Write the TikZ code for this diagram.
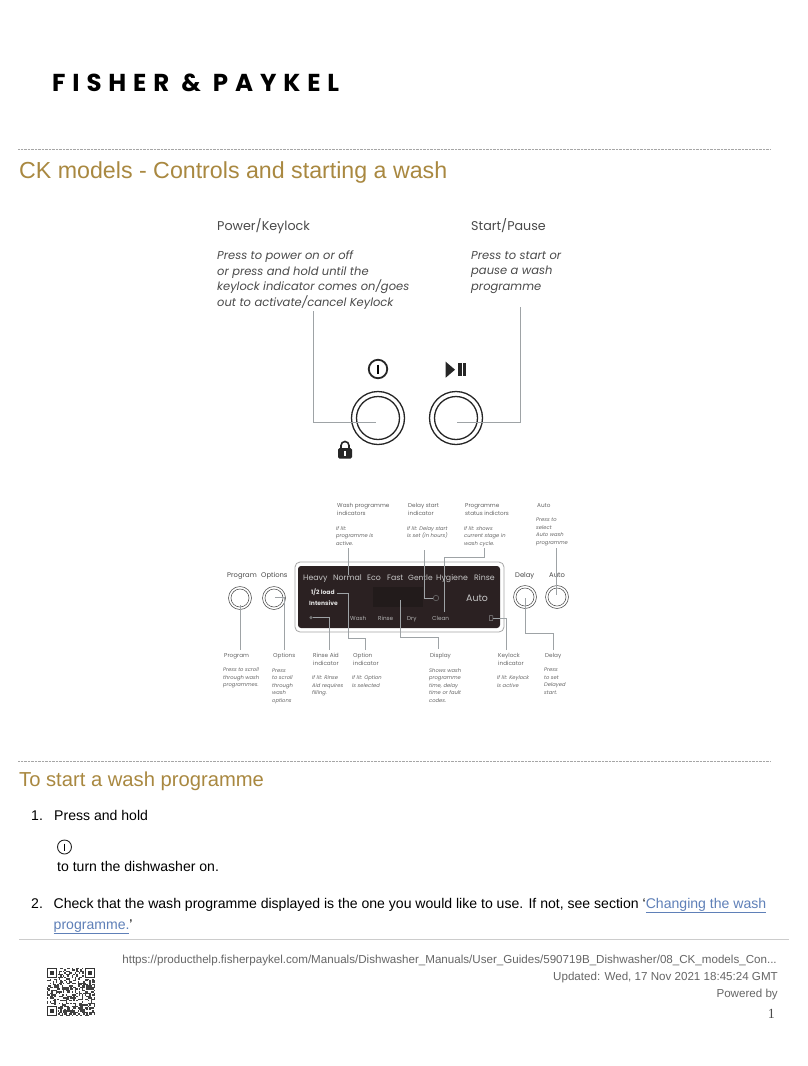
\documentclass[tikz,border=0pt]{standalone}
\usepackage{fontspec}
\setmainfont{Liberation Sans}
\newfontfamily\logofont[LetterSpace=28]{Poppins}
\newfontfamily\panelfont{Poppins}
\usepackage{xcolor}
\usetikzlibrary{positioning, calc}
\definecolor{heading}{HTML}{A98840}
\definecolor{linkblue}{HTML}{5F80B8}
\definecolor{leadgrey}{HTML}{9EA3A6}
\definecolor{panelbrown}{HTML}{2B2122}
\definecolor{captiongrey}{HTML}{4A4A4A}

\begin{document}
\begin{tikzpicture}
    [x=1pt, y=-1pt,
      page/.style={inner sep=0pt, anchor=base west},
      rulerline/.style={draw=black!35, line width=0.7pt, dash pattern=on 0.7pt off 0.7pt},
      title/.style={page, text=heading, font=\fontsize{23.2}{28}\selectfont},
      bodytext/.style={page, font=\fontsize{14.06}{16}\selectfont},
      footer/.style={inner sep=0pt, anchor=base east, text=black!60, font=\fontsize{11.6}{14}\selectfont},
      bigcapt/.style={page, text=captiongrey, font=\panelfont\fontsize{12.7}{14}\selectfont},
      bignote/.style={inner sep=0pt, anchor=north west, align=left, text=captiongrey,
        font=\panelfont\itshape\fontsize{11.5}{15.4}\selectfont},
      capt/.style={inner sep=0pt, anchor=north west, align=left, text=captiongrey!85,
        font=\panelfont\fontsize{5.7}{8}\selectfont},
      note/.style={inner sep=0pt, anchor=north west, align=left, text=captiongrey!85, xshift=-1pt,
        font=\panelfont\itshape\fontsize{5.2}{7.5}\selectfont},
      btn/.style={page, text=captiongrey, font=\panelfont\fontsize{6.8}{8}\selectfont},
      lit/.style={page, text=black!22, font=\panelfont\fontsize{7.8}{9}\selectfont},
      litsmall/.style={page, text=black!30, font=\panelfont\fontsize{5.7}{7}\selectfont},
      litbold/.style={page, text=black!12, font=\panelfont\bfseries\fontsize{6}{7}\selectfont},
      lead/.style={draw=leadgrey, line width=0.8pt},
      ring/.style={circle, draw=black!85, line width=#1, inner sep=0pt},
      smallring/.style={circle, draw=black!65, line width=0.6pt, inner sep=0pt}]

    \useasboundingbox[fill=white] (0,0) rectangle (808,1066);

    % page head
    \node[page, font=\logofont\bfseries\fontsize{24.5}{28}\selectfont] (Logo) at (52,91) {FISHER \& PAYKEL};
    \coordinate (RuleAL) at (18,149.5);
    \coordinate (RuleAR) at (770,149.5);
    \draw[rulerline] (RuleAL) -- (RuleAR);
    \node[title] (Title) at (19,178) {CK models - Controls and starting a wash};

    % power and start buttons
    \node[ring=1.3pt, minimum size=53pt] (Power) at (378,418) {};
    \node[ring=1.3pt, minimum size=43pt] (PowerIn) at (378,418) {};
    \node[ring=1.3pt, minimum size=53pt] (Start) at (456,418) {};
    \node[ring=1.3pt, minimum size=43pt] (StartIn) at (456,418) {};

    \node[bigcapt] (PowerCap) at (217,230) {Power/Keylock};
    \node[bignote, below=21pt of PowerCap.base west, anchor=north west] (PowerNote)
    {Press to power on or off \\ or press and hold until the \\ keylock indicator comes on/goes \\ out to activate/cancel Keylock};
    \node[bigcapt] (StartCap) at (471,230) {Start/Pause};
    \node[bignote, below=21pt of StartCap.base west, anchor=north west] (StartNote)
    {Press to start or \\ pause a wash \\ programme};

    \coordinate (PowerTop) at (313,311);
    \coordinate (PowerEnd) at (376,422);
    \coordinate (StartTop) at (520,307);
    \coordinate (StartEnd) at (457,422);
    \draw[lead] (PowerTop) |- (PowerEnd);
    \draw[lead] (StartTop) |- (StartEnd);

    % symbols over the buttons
    \node[ring=1.8pt, minimum size=18.5pt] (PowerSym) at (378,369) {};
    \coordinate (PowerSymA) at (378,364.5);
    \coordinate (PowerSymB) at (378,373.5);
    \draw[line width=1.4pt] (PowerSymA) -- (PowerSymB);
    \fill[black!85] (445.7,361.7) -- (455,369.7) -- (445.7,377.7) -- cycle;
    \fill[black!85] (458.3,363.3) rectangle (461.5,376);
    \fill[black!85] (462.8,363.3) rectangle (466,376);
    \draw[black!85, line width=1.6pt] (341,449) -- (341,445.5) arc[start angle=180, end angle=360, radius=4] -- (349,449);
    \fill[black!85, rounded corners=1.5pt] (338,448) rectangle (352,458.5);
    \fill[white] (344,451) rectangle (346,456);

    % display panel
    \draw[draw=black!35, fill=white, line width=0.8pt, rounded corners=5pt] (295,562) rectangle (504,632);
    \fill[panelbrown, rounded corners=3pt] (298,566) rectangle (500,628);
    \fill[black!20!panelbrown] (373,587) rectangle (423,607);

    \node[btn] (ProgramBtn) at (227,577) {Program};
    \node[btn] (OptionsBtn) at (261,577) {Options};
    \node[btn] (DelayBtn) at (515,577) {Delay};
    \node[btn] (AutoBtn) at (549,577) {Auto};
    \node[smallring, minimum size=23pt] (Program) at (240,598) {};
    \node[smallring, minimum size=18pt] (ProgramIn) at (240,598) {};
    \node[smallring, minimum size=23pt] (Options) at (274,598) {};
    \node[smallring, minimum size=18pt] (OptionsIn) at (274,598) {};
    \node[smallring, minimum size=23pt] (Delay) at (525,597) {};
    \node[smallring, minimum size=18pt] (DelayIn) at (525,597) {};
    \node[smallring, minimum size=23pt] (Auto) at (557,597) {};
    \node[smallring, minimum size=18pt] (AutoIn) at (557,597) {};

    \node[lit] (Heavy) at (303,580) {Heavy};
    \node[lit] (Normal) at (333,580) {Normal};
    \node[lit] (Eco) at (367,580) {Eco};
    \node[lit] (Fast) at (387,580) {Fast};
    \node[lit, font=\panelfont\fontsize{7.5}{9}\selectfont] (Gentle) at (408,580) {Gentle};
    \node[lit] (Hygiene) at (436,580) {Hygiene};
    \node[lit] (Rinse) at (474,580) {Rinse};
    \node[page, text=black!22, font=\panelfont\fontsize{9.4}{11}\selectfont] (AutoLit) at (466,601) {Auto};
    \node[litbold] (HalfLoad) at (311,594) {1/2 load};
    \node[litbold] (Intensive) at (309,605) {Intensive};
    \node[litsmall] (WashSt) at (350,620) {Wash};
    \node[litsmall] (RinseSt) at (378,620) {Rinse};
    \node[litsmall] (DrySt) at (407,620) {Dry};
    \node[litsmall] (CleanSt) at (432,620) {Clean};

    % panel indicators
    \node[circle, draw=black!55, line width=0.5pt, inner sep=0pt, minimum size=5.5pt] (ClockSym) at (436,598) {};
    \node[circle, fill=black!55, inner sep=0pt, minimum size=3.5pt] (RinseSym) at (311,617.5) {};
    \node[rectangle, rounded corners=0.5pt, draw=black!45, line width=0.5pt, inner sep=0pt, minimum width=3.5pt, minimum height=5pt] (LockSym) at (491,618) {};

    % connectors, top to bottom
    \coordinate (WashTop) at (348,548);
    \coordinate (WashEnd) at (348,575);
    \draw[lead] (WashTop) -- (WashEnd);
    \coordinate (ClockTop) at (424,550);
    \draw[lead] (ClockTop) |- (ClockSym.west);
    \coordinate (StatusTop) at (484,548);
    \coordinate (StatusA) at (484,557);
    \coordinate (StatusB) at (444,557);
    \coordinate (StatusEnd) at (444,612);
    \draw[lead] (StatusTop) -- (StatusA) -- (StatusB) -- (StatusEnd);
    \coordinate (AutoTop) at (556,548);
    \coordinate (AutoEnd) at (556,595);
    \draw[lead] (AutoTop) -- (AutoEnd);

    \coordinate (ProgramEnd) at (240,605);
    \coordinate (ProgramLow) at (240,650);
    \draw[lead] (ProgramEnd) -- (ProgramLow);
    \coordinate (OptionsEnd) at (275,597);
    \coordinate (OptionsLow) at (284,650);
    \draw[lead] (OptionsEnd) -| (OptionsLow);
    \coordinate (RinseLow) at (329,650);
    \draw[lead] (RinseSym.east) -| (RinseLow);
    \coordinate (LoadEnd) at (337,593);
    \coordinate (LoadA) at (348,593);
    \coordinate (LoadB) at (348,638);
    \coordinate (LoadC) at (365,638);
    \coordinate (LoadLow) at (365,650);
    \draw[lead] (LoadEnd) -- (LoadA) -- (LoadB) -- (LoadC) -- (LoadLow);
    \coordinate (DisplayEnd) at (400,600);
    \coordinate (DisplayA) at (400,637);
    \coordinate (DisplayB) at (438,637);
    \coordinate (DisplayLow) at (438,649);
    \draw[lead] (DisplayEnd) -- (DisplayA) -- (DisplayB) -- (DisplayLow);
    \coordinate (KeylockLow) at (506,650);
    \draw[lead] (LockSym.east) -| (KeylockLow);
    \coordinate (DelayEnd) at (525,598);
    \coordinate (DelayA) at (525,633);
    \coordinate (DelayB) at (553,633);
    \coordinate (DelayLow) at (553,650);
    \draw[lead] (DelayEnd) -- (DelayA) -- (DelayB) -- (DelayLow);

    % captions above the panel
    \node[capt] (WashCap) at (337,503.5) {Wash programme \\ indicators};
    \node[note, below=10pt of WashCap.south west, anchor=north west] (WashNote) {If lit: \\ programme is \\ active.};
    \node[capt] (ClockCap) at (408,503.5) {Delay start \\ indicator};
    \node[note, below=10pt of ClockCap.south west, anchor=north west] (ClockNote) {If lit: Delay start \\ is set (in hours)};
    \node[capt] (StatusCap) at (465,503.5) {Programme \\ status indictors};
    \node[note, below=10pt of StatusCap.south west, anchor=north west] (StatusNote) {If lit: shows \\ current stage in \\ wash cycle.};
    \node[capt] (AutoCap) at (537,503.5) {Auto};
    \node[note, below=10pt of AutoCap.south west, anchor=north west] (AutoNote) {Press to \\ select \\ Auto wash \\ programme};

    % captions below the panel
    \node[capt] (ProgramCap) at (224,653) {Program};
    \node[note, below=9pt of ProgramCap.south west, anchor=north west] (ProgramNote) {Press to scroll \\ through wash \\ programmes.};
    \node[capt] (OptionsCap) at (273,653) {Options};
    \node[note, below=9pt of OptionsCap.south west, anchor=north west] (OptionsNote) {Press \\ to scroll \\ through \\ wash \\ options};
    \node[capt] (RinseCap) at (313,653) {Rinse Aid \\ indicator};
    \node[note, below=10pt of RinseCap.south west, anchor=north west] (RinseNote) {If lit: Rinse \\ Aid requires \\ filling.};
    \node[capt] (LoadCap) at (353,653) {Option \\ indicator};
    \node[note, below=10pt of LoadCap.south west, anchor=north west] (LoadNote) {If lit: Option \\ is selected};
    \node[capt] (DisplayCap) at (430,653) {Display};
    \node[note, below=9pt of DisplayCap.south west, anchor=north west] (DisplayNote) {Shows wash \\ programme \\ time, delay \\ time or fault \\ codes.};
    \node[capt] (KeylockCap) at (498,653) {Keylock \\ indicator};
    \node[note, below=10pt of KeylockCap.south west, anchor=north west] (KeylockNote) {If lit: Keylock \\ is active};
    \node[capt] (DelayCap) at (545,653) {Delay};
    \node[note, below=9pt of DelayCap.south west, anchor=north west] (DelayNote) {Press \\ to set \\ Delayed \\ start.};

    % wash programme steps
    \coordinate (RuleBL) at (18,761);
    \coordinate (RuleBR) at (770,761);
    \draw[rulerline] (RuleBL) -- (RuleBR);
    \node[title, font=\fontsize{20.2}{24}\selectfont] (Title2) at (19,786) {To start a wash programme};
    \node[bodytext] (One) at (31,820) {1.};
    \node[bodytext] (OneA) at (54,820) {Press and hold};
    \node[circle, draw=black!85, line width=0.9pt, inner sep=0pt, minimum size=14pt] (PowerSmall) at (64.5,847) {};
    \coordinate (PowerSmallA) at (64.5,843.5);
    \coordinate (PowerSmallB) at (64.5,850.5);
    \draw[line width=0.9pt] (PowerSmallA) -- (PowerSmallB);
    \node[bodytext] (OneB) at (57,871) {to turn the dishwasher on.};
    \node[bodytext] (Two) at (31,908) {2.};
    \node[bodytext] (TwoA) at (53.5,908) {Check that the wash programme displayed is the one you would like to use. If not, see section `\textcolor{linkblue}{\underline{Changing the wash}}};
    \node[bodytext] (TwoB) at (53.5,929) {\textcolor{linkblue}{\underline{programme.}}'};

    % footer
    \coordinate (FootL) at (19,939);
    \coordinate (FootR) at (789,939);
    \draw[draw=black!20, line width=0.9pt] (FootL) -- (FootR);
    \node[footer] (Url) at (777,963) {https://producthelp.fisherpaykel.com/Manuals/Dishwasher\_Manuals/User\_Guides/590719B\_Dishwasher/08\_CK\_models\_Con...};
    \node[footer] (Updated) at (778,980) {Updated: Wed, 17 Nov 2021 18:45:24 GMT};
    \node[footer] (Powered) at (778,997) {Powered by};
    \node[footer, text=black!70, font=\fontsize{14}{16}\selectfont] (PageNo) at (775,1018) {\fontspec{Liberation Serif}1};

    % qr code
    \pgfmathsetseed{4711}
    \foreach \i in {0,...,32} {
      \foreach \j in {0,...,32} {
        \pgfmathparse{rnd<0.5 ? 1 : 0}
        \ifnum\pgfmathresult=1
          \fill[black!75] ({47+1.455*\i},{968+1.455*\j}) rectangle +(1.455,1.455);
        \fi
      }
    }
    \foreach \fx/\fy in {47/968, 84.8/968, 47/1005.8} {
      \fill[white] (\fx-1,\fy-1) rectangle +(12.2,12.2);
      \fill[black!80] (\fx,\fy) rectangle +(10.2,10.2);
      \fill[white] (\fx+1.45,\fy+1.45) rectangle +(7.3,7.3);
      \fill[black!80] (\fx+2.9,\fy+2.9) rectangle +(4.4,4.4);
    }
  \end{tikzpicture}
\end{document}
